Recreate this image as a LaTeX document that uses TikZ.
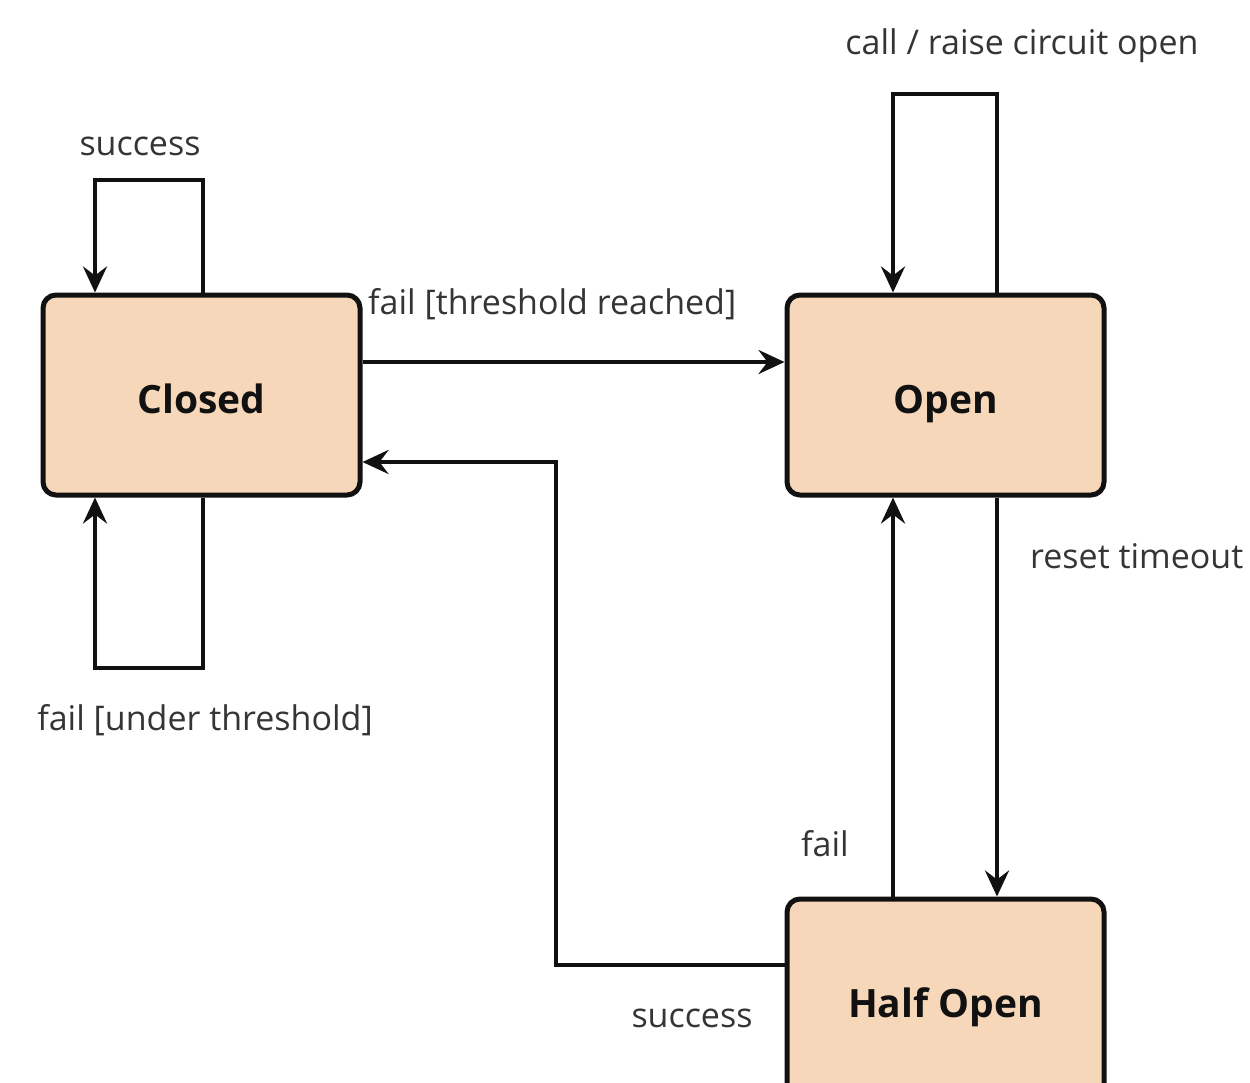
\documentclass[tikz,border=0pt]{standalone}
\usepackage{fontspec}
\setmainfont{Open Sans}
\usetikzlibrary{arrows.meta}
\definecolor{statefill}{RGB}{247,215,186}
\definecolor{ink}{RGB}{17,17,17}
\begin{document}
\begin{tikzpicture}[x=1pt,y=-1pt,
  state/.style={draw=ink, line width=5pt, fill=statefill, rounded corners=13pt,
    minimum width=317pt, minimum height=200pt, inner sep=0pt,
    text height=36pt, text depth=0pt,
    font=\fontsize{39}{43}\selectfont\bfseries, text=ink},
  conn/.style={draw=ink, line width=4pt, -{Stealth[length=26pt,width=24pt,inset=9pt]}},
  lbl/.style={font=\fontsize{34}{38}\selectfont, text=ink!85, inner sep=0pt}]
\useasboundingbox (0,0) rectangle (1250,1082);
\fill[white] (0,0) rectangle (1250,1082);
\node[state] (closed) at (201.5,395) {Closed};
\node[state] (open) at (945.5,395) {Open};
\node[state] (half) at (945.5,999) {Half Open};
% self loop closed top
\coordinate (c1) at (203,180);
\coordinate (c2) at (95,180);
\draw[conn] (closed.north -| c1) |- (c2) -- (closed.north -| c2);
\node[lbl] (lsuccess) at (140,146) {success};
% self loop closed bottom
\coordinate (c3) at (203,668);
\coordinate (c4) at (95,668);
\draw[conn] (closed.south -| c3) |- (c4) -- (closed.south -| c4);
\node[lbl] (lunder) at (205,720) {fail [under threshold]};
% closed -> open
\coordinate (c5) at (0,362);
\draw[conn] (closed.east |- c5) -- (open.west |- c5);
\node[lbl, anchor=west] (lreached) at (368,304) {fail [threshold reached]};
% half -> closed
\coordinate (c6) at (556,965);
\coordinate (c7) at (556,462);
\draw[conn] (half.west |- c6) -- (c6) -- (c7) -- (closed.east |- c7);
\node[lbl] (lhsucc) at (692,1018) {success};
% open self loop
\coordinate (o1) at (997,94);
\coordinate (o2) at (893,94);
\draw[conn] (open.north -| o1) |- (o2) -- (open.north -| o2);
\node[lbl] (lcall) at (1022,46) {call / raise circuit open};
% open -> half
\coordinate (o3) at (997,0);
\draw[conn] (open.south -| o3) -- (half.north -| o3);
\node[lbl, anchor=west] (lreset) at (1030,556) {reset timeout};
% half -> open
\coordinate (o4) at (893,0);
\draw[conn] (half.north -| o4) -- (open.south -| o4);
\node[lbl] (lfail) at (825,844) {fail};
\end{tikzpicture}
\end{document}
